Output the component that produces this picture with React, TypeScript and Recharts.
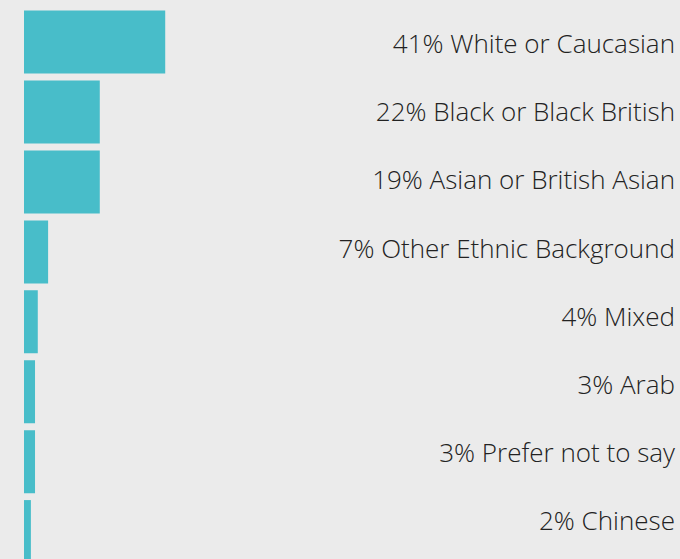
import React from 'react';
import { BarChart, Bar, XAxis, YAxis } from 'recharts';

const categories = [
  'White or Caucasian',
  'Black or Black British',
  'Asian or British Asian',
  'Other Ethnic Background',
  'Mixed',
  'Arab',
  'Prefer not to say',
  'Chinese',
];
const percentLabels = [41, 22, 19, 7, 4, 3, 3, 2];
const barLengths = [41, 22, 22, 7, 4, 3.2, 3.2, 2];

const data = categories.map((name, i) => ({
  name,
  value: barLengths[i],
  label: `${percentLabels[i]}% ${name}`,
}));

const FONT_SIZE = 26;

const LabelTick = (props: any) => {
  const { x, y, payload } = props;
  const row = data.find((d) => d.name === payload?.value);
  return (
    <text
      x={x}
      y={y}
      dy="0.36em"
      textAnchor="end"
      fill="#222222"
      fontSize={FONT_SIZE}
      fontWeight={300}
      fontFamily="'Open Sans', sans-serif"
    >
      {row ? row.label : ''}
    </text>
  );
};

export default function App() {
  return (
    <div
      style={{
        position: 'fixed',
        left: 0,
        top: 0,
        width: 680,
        height: 559,
        overflow: 'hidden',
        background: '#ebebeb',
      }}
    >
      <BarChart
        width={680}
        height={567}
        data={data}
        layout="vertical"
        margin={{ top: 7.6, right: 4, bottom: 0, left: 24 }}
      >
        <XAxis type="number" domain={[0, 189]} hide />
        <YAxis yAxisId="bars" type="category" dataKey="name" hide />
        <YAxis
          yAxisId="labels"
          type="category"
          dataKey="name"
          orientation="right"
          width={1}
          axisLine={false}
          tickLine={false}
          tickSize={0}
          tickMargin={0}
          interval={0}
          padding={{ top: 2.1, bottom: 12 }}
          tick={<LabelTick />}
        />
        <Bar
          yAxisId="bars"
          dataKey="value"
          fill="#48bdc9"
          barSize={63}
          isAnimationActive={false}
        />
        <Bar
          yAxisId="labels"
          dataKey="value"
          fill="none"
          fillOpacity={0}
          barSize={1}
          isAnimationActive={false}
        />
      </BarChart>
    </div>
  );
}
